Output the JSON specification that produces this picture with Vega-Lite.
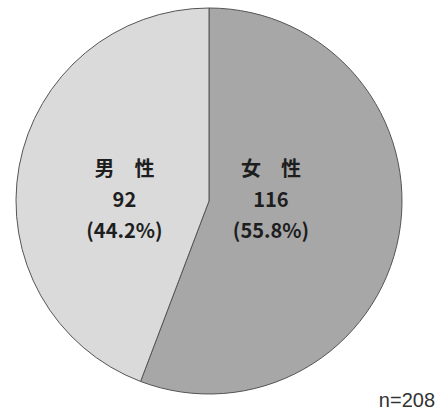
{
  "$schema": "https://vega.github.io/schema/vega-lite/v6.json",
  "width": 418,
  "height": 402,
  "padding": 0,
  "background": "white",
  "view": {"stroke": null},
  "title": {
    "text": "n=208",
    "orient": "bottom",
    "anchor": "end",
    "frame": "group",
    "baseline": "alphabetic",
    "offset": 5,
    "dx": 17,
    "fontSize": 20,
    "fontWeight": "normal",
    "font": "Liberation Sans",
    "color": "#333333"
  },
  "data": {
    "values": [
      {"gender": "女性", "count": 116, "label": "女　性\n116\n(55.8%)"},
      {"gender": "男性", "count": 92, "label": "男　性\n92\n(44.2%)"}
    ]
  },
  "encoding": {
    "theta": {"field": "count", "type": "quantitative", "stack": true}
  },
  "layer": [
    {
      "mark": {"type": "arc", "outerRadius": 193, "stroke": "#555555", "strokeWidth": 1},
      "encoding": {
        "color": {
          "field": "gender",
          "type": "nominal",
          "scale": {"domain": ["女性", "男性"], "range": ["#a7a7a7", "#dadada"]},
          "legend": null
        }
      }
    },
    {
      "mark": {"type": "text", "radius": 86, "dy": -15, "lineBreak": "\n", "lineHeight": 31, "fontSize": 20, "fontWeight": "bold", "font": "Noto Sans CJK JP", "color": "#1e1e1e", "align": "center", "baseline": "middle"},
      "encoding": {
        "text": {"condition": {"test": "datum.gender === '男性'", "field": "label"}, "value": ""}
      }
    },
    {
      "mark": {"type": "text", "radius": 63, "dy": -42, "lineBreak": "\n", "lineHeight": 31, "fontSize": 20, "fontWeight": "bold", "font": "Noto Sans CJK JP", "color": "#1e1e1e", "align": "center", "baseline": "middle"},
      "encoding": {
        "text": {"condition": {"test": "datum.gender === '女性'", "field": "label"}, "value": ""}
      }
    }
  ]
}
